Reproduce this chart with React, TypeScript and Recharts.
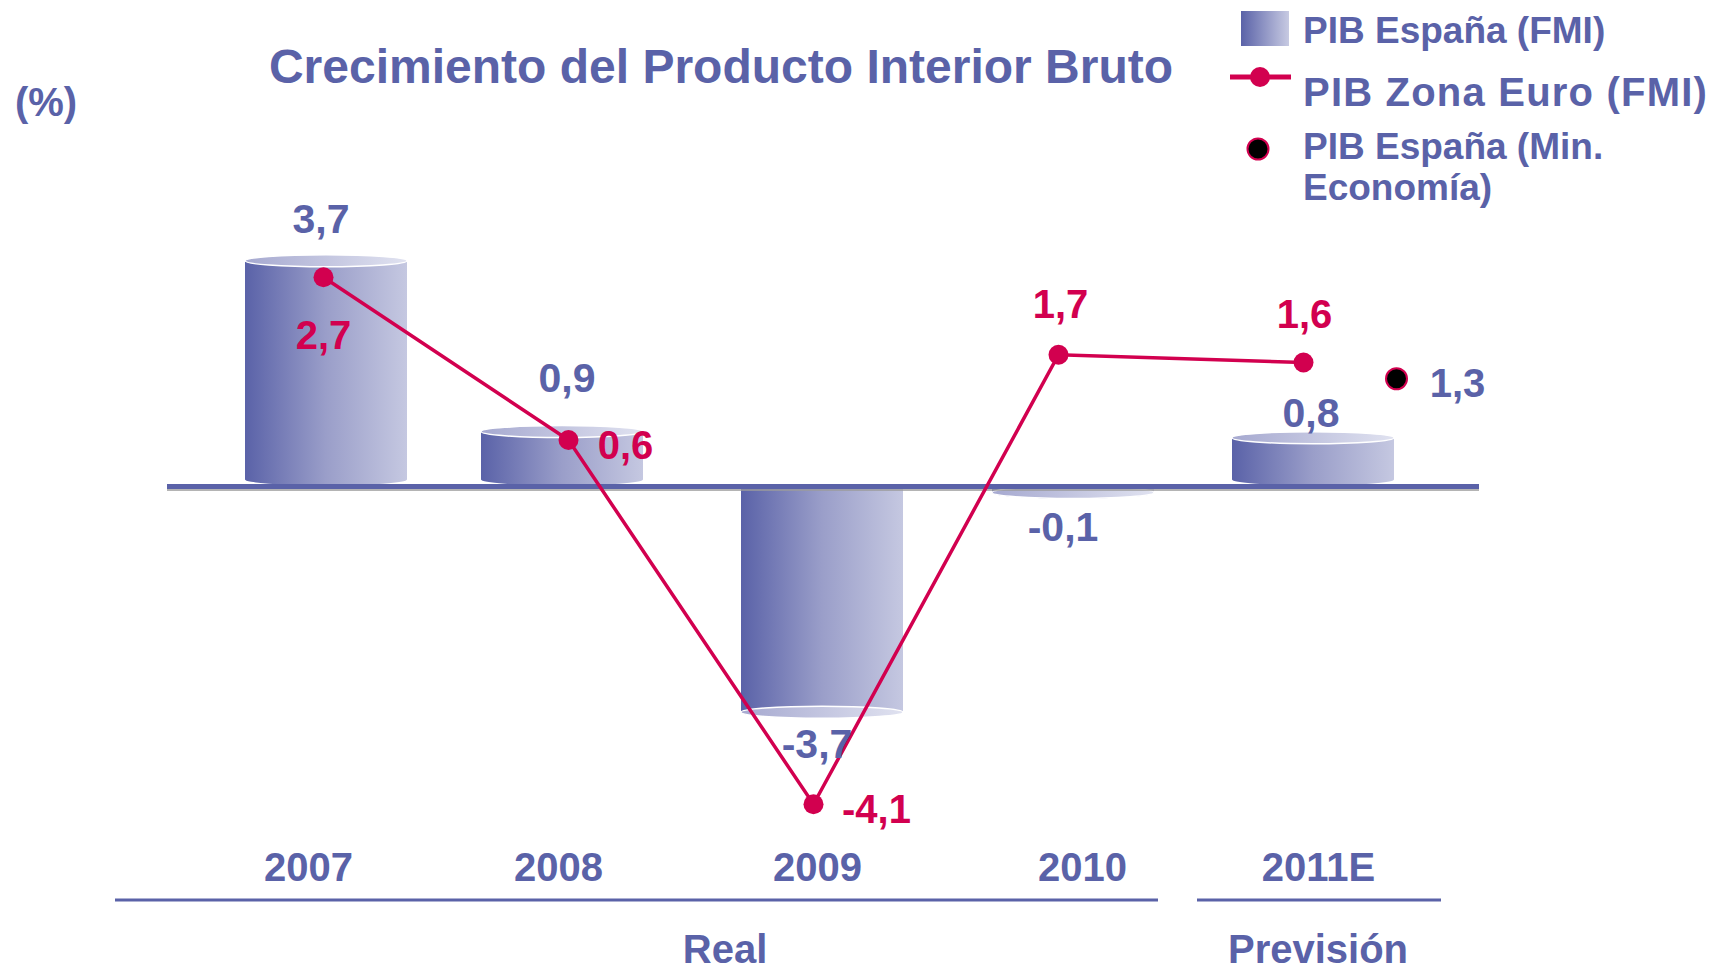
import React from 'react'
import { ComposedChart, Bar, Line, XAxis, YAxis, ReferenceLine, LabelList, Legend } from 'recharts'

// values
const years = ['2007', '2008', '2009', '2010', '2011E']
const pibEspanaFmi = [3.7, 0.9, -3.7, -0.1, 0.8]
const pibZonaEuroFmi = [2.7, 0.6, -4.1, 1.7, 1.6]
const pibEspanaMinEco: (number | null)[] = [null, null, null, null, 1.3]

const seriesNames = ['PIB España (FMI)', 'PIB Zona Euro (FMI)', 'PIB España (Min.', 'Economía)']
const groupLabels = ['Real', 'Previsión']
const chartTitle = 'Crecimiento del Producto Interior Bruto'
const unitLabel = '(%)'

const data = years.map((year, i) => ({
  year,
  espana: pibEspanaFmi[i],
  euro: pibZonaEuroFmi[i],
  minEco: pibEspanaMinEco[i],
}))

const BLUE = '#5a62a8'
const RED = '#d2004f'
const FONT = '"Liberation Sans", Arial, sans-serif'
const W = 1711
const H = 970

// pixel layout: both axes share the zero line, bars and line use different scales
const PLOT_TOP = 100
const PLOT_BOTTOM = 860
const ZERO_Y = 486.5
const BAR_PX = 61
const LINE_PX = 77.5
const barDomain = [-(PLOT_BOTTOM - ZERO_Y) / BAR_PX, (ZERO_Y - PLOT_TOP) / BAR_PX]
const lineDomain = [-(PLOT_BOTTOM - ZERO_Y) / LINE_PX, (ZERO_Y - PLOT_TOP) / LINE_PX]

// nudges, as the shapes were placed by hand in the original slide
const barDx = [2, -7, 8, 14, 9]
const barLabelDx = [-3, -2, 3, 4, 7]
const barLabelDy = [-42, -54, 31, 34, -25]
const lineLabelDx = [0, 57, 63, 2, 1]
const lineLabelDy = [58, 5, 5, -51, -49]
const yearDx = [-15, -10, 4, 24, 15]
const MIN_ECO_DX = 93
const MIN_ECO_DY = -7

const fmt = (v: number) => v.toFixed(1).replace('.', ',')

const Cylinder = (props: any) => {
  const { x, y, width, height, payload, index } = props
  if (x == null || y == null || width == null || height == null) return <g />
  const top = Math.min(y, y + height)
  const bottom = Math.max(y, y + height)
  const ry = 6
  const rx = width / 2
  const x0 = x + (barDx[index] ?? 0)
  const cx = x0 + rx
  const up = payload.espana >= 0
  // positive bars sit on the zero line with a rounded base, negative ones hang below it
  const baseY = up ? bottom - ry - 1 : bottom
  const body = `M${x0},${top} L${x0},${baseY} A${rx},${ry} 0 0 0 ${x0 + width},${baseY} L${x0 + width},${top} Z`
  return (
    <g>
      <path d={body} fill="url(#cylBody)" />
      <ellipse cx={cx} cy={up ? top : bottom} rx={rx} ry={ry} fill="url(#cylCap)" stroke="#fff" strokeWidth={1.5} />
    </g>
  )
}

const BarValueLabel = (props: any) => {
  const vb = props.viewBox || props
  const x = vb.x ?? props.x
  const y = vb.y ?? props.y
  const w = vb.width ?? props.width ?? 0
  const h = vb.height ?? props.height ?? 0
  const v = Number(props.value)
  if (x == null || y == null || Number.isNaN(v)) return null
  const tip = v >= 0 ? Math.min(y, y + h) : Math.max(y, y + h)
  const i = props.index ?? 0
  return (
    <text x={x + w / 2 + barLabelDx[i]} y={tip + barLabelDy[i] + 14.5} textAnchor="middle" fill={BLUE}
      fontFamily={FONT} fontWeight="bold" fontSize={41}>
      {fmt(v)}
    </text>
  )
}

const LineValueLabel = (props: any) => {
  const vb = props.viewBox || props
  const x = vb.x ?? props.x
  const y = vb.y ?? props.y
  const v = props.value
  if (x == null || y == null || v == null) return null
  const i = props.index ?? 0
  return (
    <text x={x + lineLabelDx[i]} y={y + lineLabelDy[i] + 14} textAnchor="middle" fill={RED}
      fontFamily={FONT} fontWeight="bold" fontSize={40}>
      {fmt(Number(v))}
    </text>
  )
}

const MinEcoDot = (props: any) => {
  const { cx, cy, index, value } = props
  if (value == null || cx == null || cy == null) return <g key={`me-${index}`} />
  const px = cx + MIN_ECO_DX
  const py = cy + MIN_ECO_DY
  return (
    <g key={`me-${index}`}>
      <circle cx={px} cy={py} r={10.5} fill="#000" stroke={RED} strokeWidth={2} />
      <text x={px + 61} y={py + 18} textAnchor="middle" fill={BLUE}
        fontFamily={FONT} fontWeight="bold" fontSize={40}>
        {fmt(Number(value))}
      </text>
    </g>
  )
}

const YearTick = (props: any) => {
  const { x, y, payload, index } = props
  return (
    <text x={x + (yearDx[index] ?? 0)} y={y + 21} textAnchor="middle" fill={BLUE}
      fontFamily={FONT} fontWeight="bold" fontSize={40}>
      {payload.value}
    </text>
  )
}

const ZeroLine = (props: any) => {
  const { x1, y1, x2, y2 } = props
  if (x1 == null) return <g />
  return (
    <g>
      <line x1={x1} y1={y1 + 3.5} x2={x2} y2={y2 + 3.5} stroke="#9b9b9b" strokeWidth={1.5} />
      <line x1={x1} y1={y1} x2={x2} y2={y2} stroke={BLUE} strokeWidth={5} />
    </g>
  )
}

const LegendBox = () => {
  const ox = 1225
  return (
    <svg width={486} height={210} style={{ display: 'block' }}>
      <defs>
        <linearGradient id="legBody" x1="0" y1="0" x2="1" y2="0">
          <stop offset="0%" stopColor="#5a62a8" />
          <stop offset="100%" stopColor="#c7cae2" />
        </linearGradient>
      </defs>
      <rect x={1241 - ox} y={11} width={48} height={35} fill="url(#legBody)" />
      <text x={1303 - ox} y={43} fill={BLUE} fontFamily={FONT} fontWeight="bold" fontSize={37}>{seriesNames[0]}</text>
      <line x1={1230 - ox} y1={77} x2={1291 - ox} y2={77} stroke={RED} strokeWidth={5} />
      <circle cx={1260 - ox} cy={77} r={10} fill={RED} />
      <text x={1303 - ox} y={106} fill={BLUE} fontFamily={FONT} fontWeight="bold" fontSize={40} letterSpacing={1.2}>{seriesNames[1]}</text>
      <circle cx={1258 - ox} cy={149} r={10.5} fill="#000" stroke={RED} strokeWidth={2} />
      <text x={1303 - ox} y={159} fill={BLUE} fontFamily={FONT} fontWeight="bold" fontSize={37}>{seriesNames[2]}</text>
      <text x={1303 - ox} y={200} fill={BLUE} fontFamily={FONT} fontWeight="bold" fontSize={37}>{seriesNames[3]}</text>
    </svg>
  )
}

export default function App() {
  return (
    <div style={{ position: 'absolute', left: 0, top: 0, width: W, height: H, background: '#fff' }}>
      <ComposedChart width={W} height={H} data={data}
        margin={{ top: PLOT_TOP, right: W - 1479, bottom: H - PLOT_BOTTOM - 30, left: 167 }}>
        <defs>
          <linearGradient id="cylBody" x1="0" y1="0" x2="1" y2="0">
            <stop offset="0%" stopColor="#5a62a8" />
            <stop offset="50%" stopColor="#9a9ec9" />
            <stop offset="100%" stopColor="#c5c8e1" />
          </linearGradient>
          <linearGradient id="cylCap" x1="0" y1="0" x2="1" y2="0">
            <stop offset="0%" stopColor="#a6a9d0" />
            <stop offset="100%" stopColor="#e0e2f0" />
          </linearGradient>
        </defs>
        <XAxis dataKey="year" height={30} axisLine={false} tickLine={false} tickSize={0} tickMargin={0}
          padding={{ left: 34, right: 53 }} tick={<YearTick />} interval={0} />
        <YAxis yAxisId="bar" type="number" domain={barDomain} allowDataOverflow hide />
        <YAxis yAxisId="line" type="number" domain={lineDomain} allowDataOverflow hide />
        <Legend layout="horizontal" verticalAlign="middle" content={<LegendBox />}
          wrapperStyle={{ top: 0, left: 1225, width: 486, height: 210 }} />
        <Bar yAxisId="bar" dataKey="espana" name={seriesNames[0]} barSize={162} shape={<Cylinder />}
          isAnimationActive={false}>
          <LabelList dataKey="espana" content={<BarValueLabel />} />
        </Bar>
        <ReferenceLine yAxisId="bar" y={0} shape={<ZeroLine />} />
        <Line yAxisId="line" dataKey="euro" name={seriesNames[1]} stroke={RED} strokeWidth={3.5}
          dot={{ r: 10, fill: RED, stroke: 'none' }} activeDot={false} isAnimationActive={false}>
          <LabelList dataKey="euro" content={<LineValueLabel />} />
        </Line>
        <Line yAxisId="line" dataKey="minEco" name="PIB España (Min. Economía)" stroke="none"
          dot={(p: any) => <MinEcoDot {...p} />} activeDot={false} legendType="none" isAnimationActive={false} />
      </ComposedChart>
      <svg width={W} height={H} style={{ position: 'absolute', left: 0, top: 0, pointerEvents: 'none' }}>
        <text x={721} y={83} textAnchor="middle" fill={BLUE} fontFamily={FONT} fontWeight="bold" fontSize={48}>
          {chartTitle}
        </text>
        <text x={46} y={116} textAnchor="middle" fill={BLUE} fontFamily={FONT} fontWeight="bold" fontSize={40}>
          {unitLabel}
        </text>
        <line x1={115} y1={900} x2={1158} y2={900} stroke={BLUE} strokeWidth={3} />
        <line x1={1197} y1={900} x2={1441} y2={900} stroke={BLUE} strokeWidth={3} />
        <text x={725} y={963} textAnchor="middle" fill={BLUE} fontFamily={FONT} fontWeight="bold" fontSize={40}>
          {groupLabels[0]}
        </text>
        <text x={1318} y={963} textAnchor="middle" fill={BLUE} fontFamily={FONT} fontWeight="bold" fontSize={40}>
          {groupLabels[1]}
        </text>
      </svg>
    </div>
  )
}
